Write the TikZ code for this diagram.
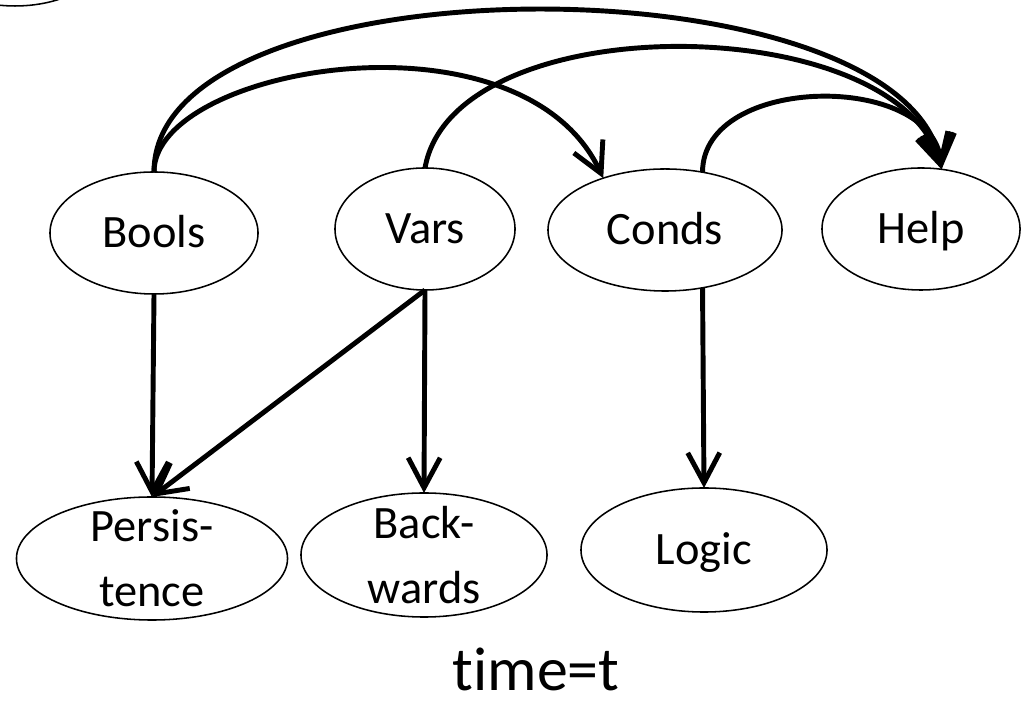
\documentclass[tikz,border=0pt]{standalone}
\usepackage{fontspec}
\setmainfont{Carlito}[Ligatures=CommonOff]
\usetikzlibrary{arrows.meta,shapes.geometric}
\tikzset{
	state/.style={ellipse, draw, line width=1.1pt, inner sep=0pt, outer sep=0pt, minimum height=3.05cm},
	every label/.style={font=\fontsize{33}{46.2}\selectfont, align=center},
	oneline/.style={text height=21.3pt, text depth=0pt},
	link/.style={line width=3.5pt, -{Straight Barb[length=0.75cm, width=0.8cm]}}
}

\begin{document}
\begin{tikzpicture}[x=0.025cm, y=0.025cm]
			%%%%% START %%%%%
			\useasboundingbox (0, 0) rectangle (1029, 707);
			
			\draw[line width=1.1pt] (15, 762) ellipse [x radius=97, y radius=61];
			
			\node[state, minimum width=5.2cm, label={[oneline]center:Bools}] (bools) at (154, 474) {};
			\node[state, minimum width=4.5cm, label={[oneline]center:Vars}] (vars) at (425, 478) {};
			\node[state, minimum width=5.85cm, label={[oneline]center:Conds}] (conds) at (665, 477) {};
			\node[state, minimum width=4.95cm, label={[oneline]center:Help}] (help) at (921, 478) {};
			
			\node[state, minimum width=6.775cm, minimum height=3.075cm, label={center:{Persis-\\tence}}] (persistence) at (152, 148.5) {};
			\node[state, minimum width=6.15cm, minimum height=3.1cm, label={center:{Back-\\wards}}] (backwards) at (424, 152) {};
			\node[state, minimum width=6.15cm, minimum height=3.1cm, label={[oneline]center:Logic}] (logic) at (704, 157) {};
			
			\node[font=\fontsize{44}{50}\selectfont, inner sep=0pt, anchor=base] (time) at (536, 16) {time=t};
			
			\draw[link] (bools.north) to[out=90, in=115, out looseness=0.6, in looseness=1.1] (conds.140);
			\draw[link] (bools.north) to[out=90, in=100, looseness=0.7] (help.71);
			\draw[link] (vars.north) to[out=80, in=105, looseness=0.82] (help.71);
			\draw[link] (conds.57) to[out=90, in=95, looseness=1.05] (help.71);
			
			\draw[link] (bools.south) -- (persistence.north);
			\draw[link] (vars.south) -- (persistence.north);
			\draw[link] (vars.south) -- (backwards.north);
			\draw[link] (conds.-57) -- (logic.north);
			%%%%% END %%%%%
\end{tikzpicture}
\end{document}
